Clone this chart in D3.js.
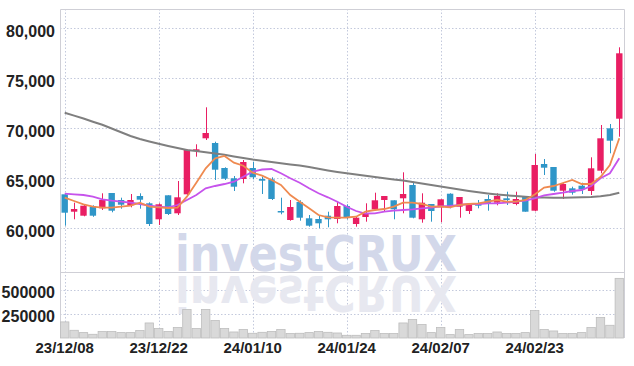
<!DOCTYPE html>
<html>
<head>
<meta charset="utf-8">
<script src="https://cdn.jsdelivr.net/npm/d3@7"></script>
<style>
  body { margin: 0; background: #fff; }
  svg { display: block; }
  .lbl { font-family: "Liberation Sans Narrow", "Arial Narrow", "Liberation Sans", sans-serif; fill: #222; font-weight: bold; }
</style>
</head>
<body>
<svg></svg>
<script>
const width = 634, height = 366;

// trading days shown on the chart
const dates = [
  '23/12/08','23/12/11','23/12/12','23/12/13','23/12/14','23/12/15','23/12/18','23/12/19','23/12/20','23/12/21',
  '23/12/22','23/12/26','23/12/27','23/12/28','24/01/02','24/01/03','24/01/04','24/01/05','24/01/08','24/01/09',
  '24/01/10','24/01/11','24/01/12','24/01/15','24/01/16','24/01/17','24/01/18','24/01/19','24/01/22','24/01/23',
  '24/01/24','24/01/25','24/01/26','24/01/29','24/01/30','24/01/31','24/02/01','24/02/02','24/02/05','24/02/06',
  '24/02/07','24/02/08','24/02/13','24/02/14','24/02/15','24/02/16','24/02/19','24/02/20','24/02/21','24/02/22',
  '24/02/23','24/02/26','24/02/27','24/02/28','24/02/29','24/03/04','24/03/05','24/03/06','24/03/07','24/03/08'
];
const tickDates = ['23/12/08','23/12/22','24/01/10','24/01/24','24/02/07','24/02/23'];
const priceTicks = [60000, 65000, 70000, 75000, 80000];
const volumeTicks = [250000, 500000];

const opens = [63400,61660,61260,62130,62000,63530,62830,62300,63230,62500,
  60900,63300,61500,63400,67730,69000,68530,66030,65000,64930,
  66030,64930,64900,61730,60830,62630,61000,60930,61260,60930,
  62230,60430,61130,61900,62830,62800,63000,64330,60900,62430,
  62100,63460,62160,61730,62430,62930,62560,63000,62430,63160,
  61760,66430,66130,63760,64000,64260,63730,65760,70000,70960];
const highs = [63500,62560,62400,62300,63500,63530,63060,63430,63500,62600,
  62500,63300,64730,67900,68400,72100,68660,66100,65230,66830,
  66660,65160,65100,63060,62830,62800,61330,61330,61660,62660,
  62400,61160,62500,63560,63230,62800,65600,64660,63500,62430,
  62900,63500,63130,62500,62830,63330,63500,63660,63660,63200,
  67430,66930,66130,64500,64160,64560,67100,70330,70430,78100];
const lows = [60260,60900,61200,61150,61830,61600,61960,62100,61960,60230,
  60330,61330,61330,63300,67160,68830,64830,64830,63730,64500,
  64900,63430,62830,61400,60760,60760,60160,60000,60100,60500,
  60900,60160,60660,61800,61660,60900,61500,61000,60560,60660,
  60600,62000,61060,61430,62000,61760,62300,62330,62300,61660,
  61700,65330,63660,62930,63360,63430,63330,65500,67500,69160];
const closes = [61560,61930,62260,61260,62830,61760,62360,62830,62860,60430,
  62400,61430,63100,67830,67900,69530,65860,64960,64160,66630,
  65100,64760,62930,61630,62130,61060,60260,60500,60900,62230,
  61030,61060,61530,62800,63230,61900,63430,61060,62560,61730,
  62900,62160,63130,62430,62260,62500,63230,62830,62930,61660,
  66330,66060,63760,64430,63560,63900,66000,69000,68760,77500];
const volumes = [167000,80000,56000,38500,66700,66700,56000,56000,77000,156000,
  98000,66700,108000,296000,98000,296000,181000,98000,62500,87500,
  49000,59000,66700,87500,45800,49000,56000,66700,59000,52000,
  28000,28000,45800,77000,45800,45800,156000,191000,139600,56000,
  108000,35000,87500,35000,45800,45800,62500,45800,45800,56000,
  285000,87500,73000,45800,45800,56000,108000,212500,132000,619000];

// moving averages
const ma5 = [63060,62730,62400,62160,62060,62060,62160,62260,62560,62160,
  62100,62030,62060,63160,64560,66000,67000,67230,66560,66260,
  65560,65260,64830,64330,63330,62660,62000,61330,61100,61060,
  61080,61160,61660,61830,61930,62160,62560,62560,62430,62160,
  62180,62100,62330,62430,62500,62660,62830,62660,62660,62830,
  63380,64080,64230,64530,64830,64430,64430,65130,66330,69000];
const ma10 = [63460,63400,63330,63160,62900,62760,62660,62560,62430,62260,
  62160,62100,62330,62830,63330,64000,64230,64430,64660,65160,
  65660,65880,65930,65500,65000,64560,64000,63500,63100,62660,
  62160,61730,61480,61500,61660,61760,61830,61900,62000,62060,
  62200,62230,62330,62430,62430,62500,62500,62560,62660,62760,
  63000,63300,63430,63560,63730,63830,64230,65000,65500,67000];
const ma60 = [71560,71270,70980,70660,70350,69980,69600,69230,68930,68680,
  68450,68240,68030,67830,67730,67610,67480,67350,67180,67030,
  66880,66760,66630,66510,66390,66290,66130,65950,65780,65630,
  65500,65380,65250,65130,65010,64890,64770,64630,64480,64330,
  64180,64030,63870,63730,63600,63490,63390,63300,63220,63150,
  63090,63070,63060,63060,63070,63100,63140,63210,63330,63560];

const m = {left: 60, right: 624, top: 9, split: 272, bottom: 338};

const svg = d3.select("svg").attr("width", width).attr("height", height);

const x = d3.scaleBand().domain(dates).range([m.left, m.right]);
const y = d3.scaleLinear().domain([55630, 81930]).range([m.split, m.top]);
const yv = d3.scaleLinear().domain([0, 685000]).range([m.bottom, m.split]);
const cx = d => x(d) + x.bandwidth() / 2;

// dotted grid
const grid = svg.append("g")
    .attr("stroke", "#c3c9dc")
    .attr("stroke-dasharray", "1.5,2");
grid.selectAll(".gx")
    .data(tickDates)
    .join("line")
    .attr("x1", d => Math.round(cx(d)) + 0.5).attr("x2", d => Math.round(cx(d)) + 0.5)
    .attr("y1", m.top).attr("y2", m.bottom);
grid.selectAll(".gy")
    .data(priceTicks)
    .join("line")
    .attr("x1", m.left).attr("x2", m.right)
    .attr("y1", d => Math.round(y(d)) + 0.5).attr("y2", d => Math.round(y(d)) + 0.5);
grid.selectAll(".gv")
    .data(volumeTicks)
    .join("line")
    .attr("x1", m.left).attr("x2", m.right)
    .attr("y1", d => Math.round(yv(d)) + 0.5).attr("y2", d => Math.round(yv(d)) + 0.5);

// watermark, reflection drawn as a flipped copy below the baseline
const mark = svg.append("g")
    .attr("font-family", "'DejaVu Sans', sans-serif")
    .attr("font-weight", "bold")
    .attr("font-size", 50);
mark.append("text")
    .attr("x", 175).attr("y", 271)
    .attr("textLength", 282).attr("lengthAdjust", "spacingAndGlyphs")
    .attr("fill", "#d3d8ea")
    .text("investCRUX");
mark.append("text")
    .attr("transform", "translate(0,547) scale(1,-1)")
    .attr("x", 175).attr("y", 271)
    .attr("textLength", 282).attr("lengthAdjust", "spacingAndGlyphs")
    .attr("fill", "#e7e8f0")
    .text("investCRUX");

// frame
const frame = svg.append("g").attr("stroke", "#cfcfd6").attr("fill", "none");
frame.append("path").attr("d", `M${m.left + 0.5},${m.bottom}V${m.top + 0.5}H${m.right + 0.5}V${m.bottom}`);
frame.append("line").attr("x1", m.left).attr("x2", m.right).attr("y1", m.split + 0.5).attr("y2", m.split + 0.5);

// volume
svg.append("g")
  .selectAll("rect")
  .data(dates)
  .join("rect")
    .attr("x", d => x(d) + 0.5)
    .attr("width", x.bandwidth() - 1)
    .attr("y", (d, i) => yv(volumes[i]))
    .attr("height", (d, i) => m.bottom - yv(volumes[i]))
    .attr("fill", "#d9d9d9")
    .attr("stroke", "#bdbdbd")
    .attr("stroke-width", 0.8);

// candles
const up = "#e91e63", down = "#2f96c8";
const bw = x.bandwidth() * 0.68;
const candles = svg.append("g")
  .selectAll("g")
  .data(dates)
  .join("g")
    .attr("fill", (d, i) => closes[i] >= opens[i] ? up : down)
    .attr("stroke", (d, i) => closes[i] >= opens[i] ? up : down);
candles.append("line")
    .attr("x1", d => Math.round(cx(d)) + 0.5).attr("x2", d => Math.round(cx(d)) + 0.5)
    .attr("y1", (d, i) => y(highs[i])).attr("y2", (d, i) => y(lows[i]));
candles.append("rect")
    .attr("stroke", "none")
    .attr("x", d => cx(d) - bw / 2)
    .attr("width", bw)
    .attr("y", (d, i) => y(Math.max(opens[i], closes[i])))
    .attr("height", (d, i) => Math.max(1.5, Math.abs(y(opens[i]) - y(closes[i]))));

// moving averages
const line = vals => d3.line().x(d => cx(d)).y((d, i) => y(vals[i]))(dates);
svg.append("path").attr("d", line(ma60)).attr("fill", "none").attr("stroke", "#7f7f7f").attr("stroke-width", 2);
svg.append("path").attr("d", line(ma10)).attr("fill", "none").attr("stroke", "#c653ec").attr("stroke-width", 1.8);
svg.append("path").attr("d", line(ma5)).attr("fill", "none").attr("stroke", "#ef8a50").attr("stroke-width", 1.8);

// labels
svg.append("g")
  .selectAll("text")
  .data(priceTicks)
  .join("text")
    .attr("class", "lbl")
    .attr("x", 55).attr("y", d => y(d) + 8.3)
    .attr("text-anchor", "end")
    .attr("font-size", 16)
    .text(d => d3.format(",")(d));
svg.append("g")
  .selectAll("text")
  .data(volumeTicks)
  .join("text")
    .attr("class", "lbl")
    .attr("x", 55).attr("y", d => yv(d) + 8.3)
    .attr("text-anchor", "end")
    .attr("font-size", 16)
    .text(d => d);
svg.append("g")
  .selectAll("text")
  .data(tickDates)
  .join("text")
    .attr("class", "lbl")
    .attr("x", d => cx(d)).attr("y", 353)
    .attr("text-anchor", "middle")
    .attr("font-size", 15)
    .text(d => d);
</script>
</body>
</html>
